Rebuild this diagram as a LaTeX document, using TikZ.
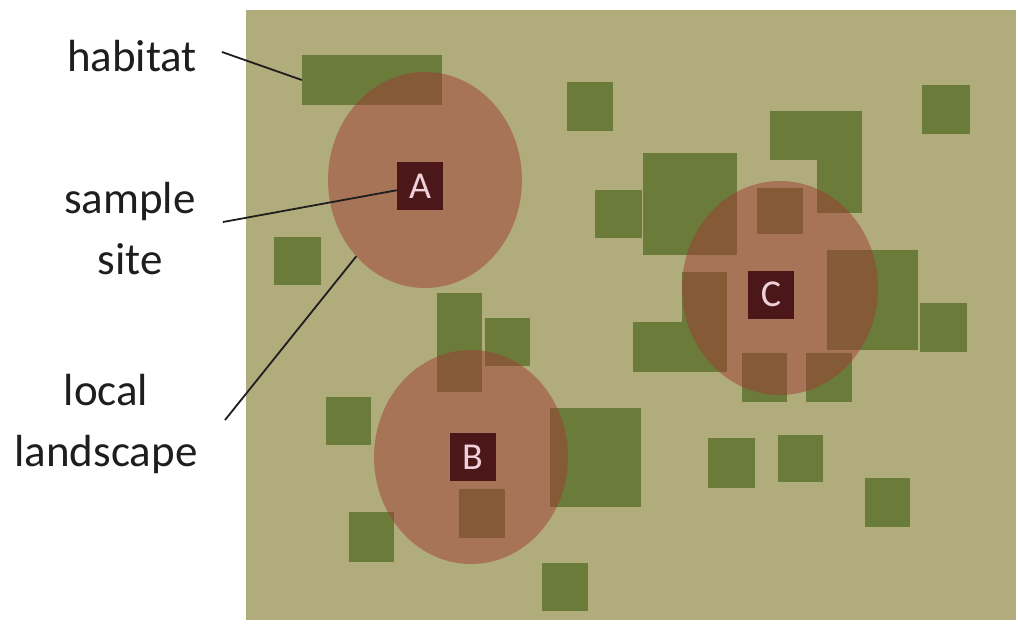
\documentclass[tikz,border=0pt]{standalone}
\usepackage{fontspec}
\setmainfont{Carlito}
\usetikzlibrary{shapes.geometric}

\definecolor{fieldtan}{HTML}{B1AC7C}
\definecolor{grassgreen}{HTML}{6A7B3A}
\definecolor{zonered}{HTML}{A03D36}
\definecolor{sitebox}{HTML}{4B1718}
\definecolor{sitetext}{HTML}{F0D0DA}
\definecolor{inkdark}{HTML}{1E1E1E}

\tikzset{
  patch/.style={fill=grassgreen},
  zone/.style={ellipse, fill=zonered, fill opacity=0.5, draw=none,
               inner sep=0pt, outer sep=0pt},
  sitemark/.style={fill=sitebox, text=sitetext, inner sep=0pt,
                   minimum width=46pt, minimum height=48pt,
                   font=\fontsize{38}{40}\selectfont},
  lbl/.style={text=inkdark, inner sep=0pt, anchor=base,
              font=\fontsize{45}{61}\selectfont},
  leader/.style={draw=inkdark, line width=1.8pt}
}

\begin{document}
\begin{tikzpicture}[x=1pt, y=-1pt]
  % page and landscape field
  \fill[white] (0,0) rectangle (1018,624);
  \useasboundingbox (0,0) rectangle (1018,624);
  \fill[fieldtan] (246,10) rectangle (1016,620);

  % habitat patches
  \node[patch, inner sep=0pt, minimum width=140pt, minimum height=50pt] (habpatch) at (372,80) {};
  \fill[patch] (567,82) rectangle (613,131);
  \fill[patch] (274,237) rectangle (321,285);
  \fill[patch] (595,190) rectangle (642,238);
  \fill[patch] (643,153) rectangle (737,255);
  \fill[patch] (770,111) rectangle (862,160);
  \fill[patch] (817,160) rectangle (862,213);
  \fill[patch] (922,85) rectangle (970,134);
  \fill[patch] (757,188) rectangle (803,234);
  \fill[patch] (682,272) rectangle (727,372);
  \fill[patch] (633,322) rectangle (700,372);
  \fill[patch] (827,250) rectangle (918,350);
  \fill[patch] (920,303) rectangle (967,352);
  \fill[patch] (742,353) rectangle (787,402);
  \fill[patch] (806,353) rectangle (852,402);
  \fill[patch] (437,293) rectangle (482,392);
  \fill[patch] (485,318) rectangle (530,366);
  \fill[patch] (326,397) rectangle (371,445);
  \fill[patch] (349,512) rectangle (394,562);
  \fill[patch] (550,408) rectangle (641,507);
  \fill[patch] (459,489) rectangle (505,538);
  \fill[patch] (542,563) rectangle (588,611);
  \fill[patch] (708,438) rectangle (755,488);
  \fill[patch] (778,435) rectangle (823,482);
  \fill[patch] (865,478) rectangle (910,527);

  % local landscapes around the sample sites
  \node[zone, minimum width=194pt, minimum height=216pt] (zoneA) at (425,180) {};
  \node[zone, minimum width=194pt, minimum height=214pt] (zoneB) at (471,457) {};
  \node[zone, minimum width=196pt, minimum height=214pt] (zoneC) at (780,288) {};

  % sample sites
  \node[sitemark] (siteA) at (420,186) {A};
  \node[sitemark] (siteB) at (472.5,457) {B};
  \node[sitemark] (siteC) at (771,294.5) {C};

  % legend labels (base anchor sits on the last line)
  \node[lbl] (habitat) at (132,71) {habitat};
  \node[lbl, align=center] (sample) at (130,274) {sample\\site};
  \node[lbl, align=center] (landscape) at (106,466) {local\\landscape};

  % leader lines
  \coordinate (habTail) at (222,52);
  \coordinate (sampTail) at (223,222);
  \coordinate (landTail) at (225,420);
  \draw[leader] (habTail) -- (habpatch.west);
  \draw[leader] (sampTail) -- (siteA);
  \draw[leader] (landTail) -- (zoneA.228);
\end{tikzpicture}
\end{document}
